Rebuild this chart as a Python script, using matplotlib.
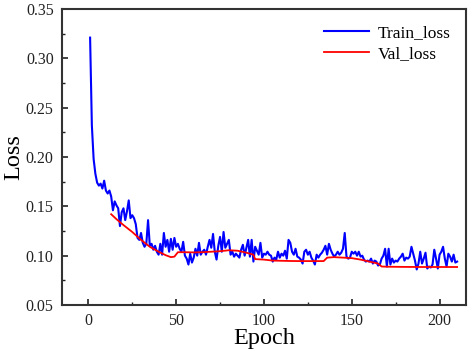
import matplotlib
matplotlib.use("Agg")
import matplotlib.pyplot as plt
from matplotlib.ticker import MultipleLocator, FormatStrFormatter

plt.rcParams['font.family'] = ['Liberation Serif', 'DejaVu Serif']

#training loss, one value per epoch
train_loss = [
    0.321, 0.232, 0.198, 0.183, 0.174, 0.171, 0.173, 0.168, 0.176, 0.166,
    0.163, 0.166, 0.160, 0.146, 0.155, 0.151, 0.148, 0.130, 0.144, 0.148,
    0.136, 0.145, 0.156, 0.138, 0.141, 0.138, 0.132, 0.118, 0.116, 0.123,
    0.113, 0.109, 0.112, 0.136, 0.110, 0.112, 0.106, 0.110, 0.104, 0.101,
    0.112, 0.101, 0.123, 0.109, 0.116, 0.104, 0.117, 0.106, 0.118, 0.109,
    0.112, 0.107, 0.104, 0.114, 0.100, 0.097, 0.091, 0.102, 0.093, 0.098,
    0.107, 0.100, 0.113, 0.101, 0.104, 0.106, 0.101, 0.109, 0.116, 0.108,
    0.122, 0.104, 0.096, 0.110, 0.119, 0.104, 0.124, 0.108, 0.112, 0.116,
    0.101, 0.104, 0.099, 0.102, 0.100, 0.098, 0.106, 0.111, 0.100, 0.108,
    0.116, 0.099, 0.116, 0.094, 0.109, 0.105, 0.101, 0.113, 0.098, 0.102,
    0.101, 0.104, 0.101, 0.100, 0.094, 0.098, 0.096, 0.104, 0.098, 0.102,
    0.100, 0.105, 0.097, 0.116, 0.113, 0.104, 0.101, 0.107, 0.099, 0.098,
    0.096, 0.092, 0.104, 0.106, 0.101, 0.104, 0.098, 0.095, 0.091, 0.101,
    0.098, 0.101, 0.103, 0.106, 0.110, 0.101, 0.112, 0.106, 0.102, 0.099,
    0.101, 0.104, 0.101, 0.103, 0.107, 0.123, 0.099, 0.097, 0.098, 0.104,
    0.102, 0.104, 0.100, 0.104, 0.099, 0.100, 0.096, 0.094, 0.095, 0.094,
    0.097, 0.092, 0.095, 0.094, 0.090, 0.091, 0.097, 0.100, 0.107, 0.089,
    0.107, 0.091, 0.097, 0.093, 0.095, 0.094, 0.097, 0.099, 0.102, 0.095,
    0.098, 0.097, 0.099, 0.109, 0.102, 0.095, 0.086, 0.092, 0.104, 0.092,
    0.097, 0.103, 0.087, 0.089, 0.088, 0.091, 0.106, 0.097, 0.087, 0.101,
    0.104, 0.109, 0.097, 0.089, 0.102, 0.099, 0.094, 0.101, 0.093, 0.094,
]
train_epoch = list(range(1, len(train_loss) + 1))

#validation loss, read at a few epochs
val_epoch = [13, 16, 20, 25, 30, 35, 40, 44, 47, 49, 51, 55, 60, 65, 70, 75,
             80, 85, 90, 94, 95, 100, 105, 110, 115, 120, 125, 130, 134, 136,
             140, 145, 150, 155, 160, 165, 167, 170, 180, 190, 200, 210]
val_loss = [0.142, 0.137, 0.131, 0.124, 0.116, 0.109, 0.104, 0.1005, 0.0985,
            0.099, 0.1035, 0.1035, 0.1033, 0.1035, 0.104, 0.1045, 0.1055,
            0.105, 0.103, 0.101, 0.0965, 0.096, 0.095, 0.0948, 0.0946, 0.0945,
            0.0945, 0.0945, 0.0945, 0.098, 0.0985, 0.098, 0.0975, 0.096,
            0.094, 0.092, 0.089, 0.0888, 0.0886, 0.0885, 0.0885, 0.0885]

fig = plt.figure(figsize=(4.68, 3.53), dpi=100)
ax = fig.add_axes([0.1325, 0.136, 0.863, 0.8385])

ax.plot(train_epoch, train_loss, color="#0000ff", lw=1.5, label="Train_loss")
ax.plot(val_epoch, val_loss, color="#ff0000", lw=1.3, label="Val_loss")

ax.set_xlim(-15, 215)
ax.set_ylim(0.05, 0.35)
ax.xaxis.set_major_locator(MultipleLocator(50))
ax.xaxis.set_minor_locator(MultipleLocator(25))
ax.yaxis.set_major_locator(MultipleLocator(0.05))
ax.yaxis.set_minor_locator(MultipleLocator(0.025))
ax.yaxis.set_major_formatter(FormatStrFormatter("%.2f"))
ax.tick_params(which="both", direction="in", top=False, right=False,
               labelsize=11.5, colors="#222222")
ax.tick_params(which="major", length=4, width=1.2, pad=6)
ax.tick_params(which="minor", length=2.5, width=1.0)
for s in ax.spines.values():
    s.set_linewidth(1.5)
    s.set_color("#333333")

ax.set_xlabel("Epoch", fontsize=17.5, labelpad=-1)
ax.set_ylabel("Loss", fontsize=17.5, labelpad=1)

ax.legend(loc="upper right", frameon=False, fontsize=12.5, handlelength=2.6,
          handletextpad=0.5, labelspacing=0.3, borderaxespad=0.5)

fig.savefig("out.png", dpi=100)
